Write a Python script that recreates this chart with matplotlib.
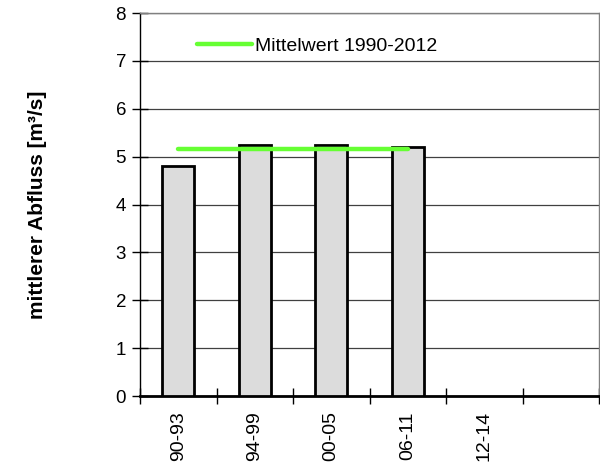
import matplotlib
matplotlib.use("Agg")
import matplotlib.pyplot as plt
import numpy as np

plt.rcParams['font.family'] = ['Liberation Sans', 'DejaVu Sans']

categories = ["90-93", "94-99", "00-05", "06-11", "12-14", ""]
values = [4.80, 5.24, 5.25, 5.20, np.nan, np.nan]
mean_value = 5.16
mean_label = "Mittelwert 1990-2012"
ylabel = "mittlerer Abfluss [m³/s]"

fig = plt.figure(figsize=(6, 4.65), dpi=100)
ax = fig.add_axes([140/600, 69/465, 459/600, 383/465])

x = np.arange(len(categories))
ax.bar(x, values, width=0.42, color='#dcdcdc', edgecolor='black', linewidth=2, zorder=3)
ax.plot([x[0], x[3]], [mean_value, mean_value], color='#66ff33', linewidth=3.2,
        solid_capstyle='round', zorder=4, label=mean_label)

ax.set_xlim(-0.5, len(categories) - 0.5)
ax.set_ylim(0, 8)
ax.set_yticks(range(0, 9))
ax.yaxis.grid(True, color='#404040', linewidth=0.9, zorder=0)
ax.set_axisbelow(True)

ax.set_xticks(x)
ax.set_xticklabels(categories, rotation=90, fontsize=14, va='top', ha='center')
ax.set_xticks(np.arange(-0.5, len(categories)), minor=True)
ax.tick_params(axis='x', which='major', length=0, pad=11)
ax.tick_params(axis='x', which='minor', length=12, width=1, direction='inout', color='black')
ax.tick_params(axis='y', length=12, width=1, direction='inout', labelsize=13.5, pad=4)

for s in ['top', 'right']:
    ax.spines[s].set_color('#808080')
    ax.spines[s].set_linewidth(1)
ax.spines['left'].set_linewidth(1)
ax.spines['bottom'].set_linewidth(2)

ax.set_ylabel(ylabel, fontsize=15, fontweight='bold')
ax.yaxis.set_label_coords(-0.203, 0.5)

leg = ax.legend(loc='center left', bbox_to_anchor=((197-140)/459, (396-46)/383),
                frameon=False, borderpad=0, borderaxespad=0, handlelength=2.85,
                handletextpad=0.15, fontsize=14)

fig.savefig("out.png", dpi=100)
